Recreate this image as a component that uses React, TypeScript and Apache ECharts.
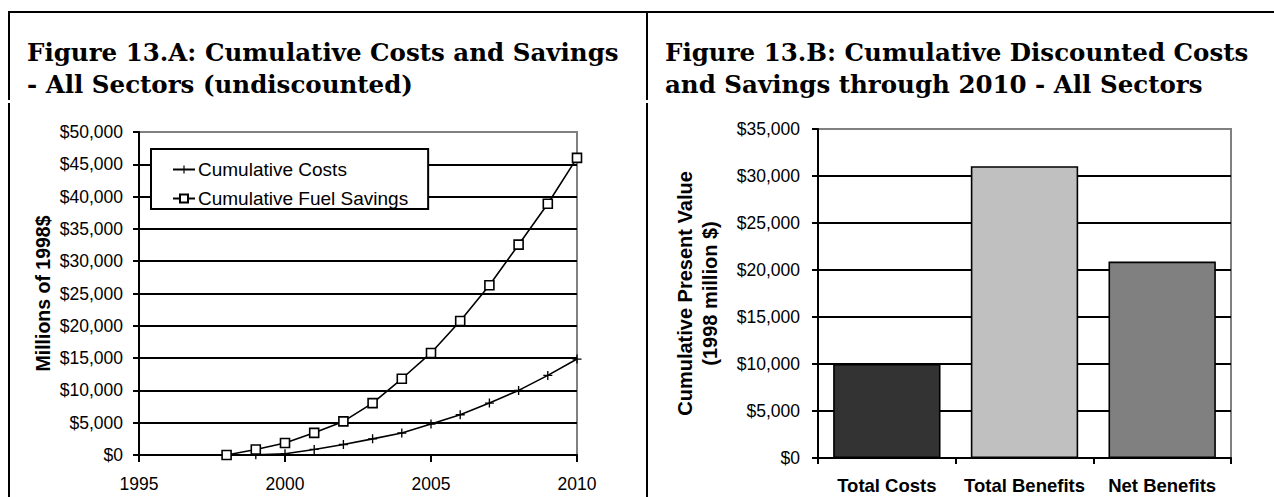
import React, { useEffect, useRef } from "react";
import * as echarts from "echarts";

const years = [1998, 1999, 2000, 2001, 2002, 2003, 2004, 2005, 2006, 2007, 2008, 2009, 2010];
const cumulativeCosts = [0, 50, 200, 860, 1620, 2500, 3400, 4800, 6230, 8040, 10000, 12320, 14850];
const cumulativeFuelSavings = [0, 850, 1850, 3430, 5200, 8030, 11800, 15800, 20750, 26270, 32560, 38900, 46000];

const barCategories = ["Total Costs", "Total Benefits", "Net Benefits"];
const barValues = [10000, 31050, 20900];
const barColors = ["#333333", "#c0c0c0", "#808080"];

const titleA = "Figure 13.A: Cumulative Costs and Savings\n- All Sectors (undiscounted)";
const titleB = "Figure 13.B: Cumulative Discounted Costs\nand Savings through 2010 - All Sectors";
const seriesNames = ["Cumulative Costs", "Cumulative Fuel Savings"];
const yNameA = "Millions of 1998$";
const yNameB = "Cumulative Present Value\n(1998 million $)";

const SANS = '"Liberation Sans", Arial, sans-serif';
const SERIF = '"DejaVu Serif", serif';

const money = (v: number) => "$" + v.toLocaleString("en-US");

const PLUS = "path://M3.4,0 h1.2 v8 h-1.2 z M0,3.4 h8 v1.2 h-8 z";

export default function App() {
  const ref = useRef<HTMLDivElement>(null);
  useEffect(() => {
    if (!ref.current) return;
    const chart = echarts.init(ref.current, null, { renderer: "svg" });
    const tickLabel = { color: "#000", fontFamily: SANS, fontSize: 17.5 };
    const titleStyle = { fontFamily: SERIF, fontWeight: "bold", fontSize: 24.5, lineHeight: 32, color: "#000" };
    const axisLine = { show: true, lineStyle: { color: "#000", width: 2 } };
    const gridLine = { show: true, showMaxLine: false, lineStyle: { color: "#000", width: 2 } };
    const option: any = {
      animation: false,
      backgroundColor: "#fff",
      title: [
        { text: titleA, left: 22, top: 31, textStyle: titleStyle },
        { text: titleB, left: 660, top: 31, textStyle: titleStyle },
      ],
      legend: {
        data: seriesNames,
        orient: "vertical",
        left: 151,
        top: 149,
        padding: [11, 20, 1, 21],
        itemGap: 10,
        itemWidth: 22,
        itemHeight: 10,
        borderColor: "#000",
        borderWidth: 2,
        backgroundColor: "#fff",
        textStyle: { color: "#000", fontFamily: SANS, fontSize: 19, padding: [0, 0, 0, -2] },
      },
      grid: [
        { left: 139, top: 132, width: 438, height: 323, show: true, borderColor: "#808080", borderWidth: 2 },
        { left: 818, top: 129, width: 413, height: 329, show: true, borderColor: "#808080", borderWidth: 2 },
      ],
      xAxis: [
        {
          type: "value",
          gridIndex: 0,
          min: 1995,
          max: 2010,
          interval: 5,
          axisLine,
          axisTick: { show: true, length: 7, lineStyle: { color: "#000", width: 2 } },
          splitLine: { show: false },
          axisLabel: { ...tickLabel, margin: 20, formatter: (v: number) => String(v) },
        },
        {
          type: "category",
          gridIndex: 1,
          data: barCategories,
          axisLine,
          axisTick: { show: true, length: 6, alignWithLabel: false, lineStyle: { color: "#000", width: 2 } },
          axisLabel: { color: "#000", fontFamily: SANS, fontSize: 18.5, fontWeight: "bold", margin: 18, interval: 0 },
        },
      ],
      yAxis: [
        {
          type: "value",
          gridIndex: 0,
          min: 0,
          max: 50000,
          interval: 5000,
          name: yNameA,
          nameLocation: "middle",
          nameGap: 86,
          nameTextStyle: { color: "#000", fontFamily: SANS, fontSize: 19.5, fontWeight: "bold" },
          axisLine,
          axisTick: { show: true, length: 6, lineStyle: { color: "#000", width: 2 } },
          splitLine: gridLine,
          axisLabel: { ...tickLabel, margin: 16, formatter: money },
        },
        {
          type: "value",
          gridIndex: 1,
          min: 0,
          max: 35000,
          interval: 5000,
          name: yNameB,
          nameLocation: "middle",
          nameGap: 96,
          nameTextStyle: { color: "#000", fontFamily: SANS, fontSize: 20, fontWeight: "bold", lineHeight: 25 },
          axisLine,
          axisTick: { show: true, length: 6, lineStyle: { color: "#000", width: 2 } },
          splitLine: gridLine,
          axisLabel: { ...tickLabel, margin: 18, formatter: money },
        },
      ],
      series: [
        {
          name: seriesNames[0],
          type: "line",
          xAxisIndex: 0,
          yAxisIndex: 0,
          data: years.map((y, i) => [y, cumulativeCosts[i]]),
          symbol: PLUS,
          symbolSize: [9, 9],
          lineStyle: { color: "#000", width: 1.6 },
          itemStyle: { color: "#000" },
          z: 3,
        },
        {
          name: seriesNames[1],
          type: "line",
          xAxisIndex: 0,
          yAxisIndex: 0,
          data: years.map((y, i) => [y, cumulativeFuelSavings[i]]),
          symbol: "rect",
          symbolSize: 9,
          showAllSymbol: true,
          lineStyle: { color: "#000", width: 1.6 },
          itemStyle: { color: "#fff", borderColor: "#000", borderWidth: 1.6 },
          z: 4,
        },
        {
          name: "Cumulative Present Value",
          type: "bar",
          xAxisIndex: 1,
          yAxisIndex: 1,
          barCategoryGap: "22%",
          data: barValues.map((v, i) => ({ value: v, itemStyle: { color: barColors[i] } })),
          itemStyle: { borderColor: "#000", borderWidth: 1.6 },
        },
      ],
      graphic: [
        { type: "line", shape: { x1: 8, y1: 12, x2: 1274, y2: 12 }, style: { stroke: "#000", lineWidth: 2 } },
        { type: "line", shape: { x1: 9, y1: 12, x2: 9, y2: 100 }, style: { stroke: "#000", lineWidth: 2 } },
        { type: "line", shape: { x1: 9, y1: 103, x2: 9, y2: 497 }, style: { stroke: "#000", lineWidth: 2 } },
        { type: "line", shape: { x1: 647, y1: 12, x2: 647, y2: 100 }, style: { stroke: "#000", lineWidth: 2 } },
        { type: "line", shape: { x1: 647, y1: 103, x2: 647, y2: 497 }, style: { stroke: "#000", lineWidth: 2 } },
      ],
    };
    chart.setOption(option);
    return () => chart.dispose();
  }, []);
  return (
    <div
      ref={ref}
      style={{ position: "fixed", left: 0, top: 0, width: 1274, height: 497, background: "#fff" }}
    />
  );
}
